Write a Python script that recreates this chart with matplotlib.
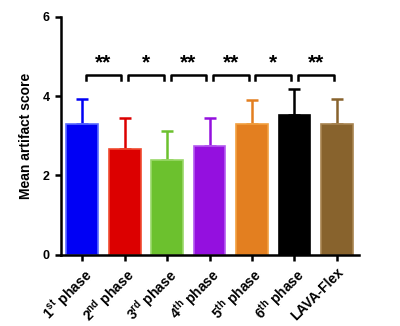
import matplotlib
matplotlib.use('Agg')
import matplotlib.pyplot as plt

plt.rcParams['font.family'] = ['Liberation Sans', 'DejaVu Sans']
plt.rcParams['mathtext.fontset'] = 'custom'
plt.rcParams['mathtext.bf'] = 'Liberation Sans:bold'
plt.rcParams['mathtext.rm'] = 'Liberation Sans'

# ── data ──
labels = [r'1$^{\mathbf{st}}$ phase', r'2$^{\mathbf{nd}}$ phase', r'3$^{\mathbf{rd}}$ phase',
          r'4$^{\mathbf{th}}$ phase', r'5$^{\mathbf{th}}$ phase', r'6$^{\mathbf{th}}$ phase',
          'LAVA-Flex']
means = [3.31, 2.66, 2.39, 2.75, 3.31, 3.53, 3.29]
sds = [0.63, 0.80, 0.74, 0.69, 0.59, 0.64, 0.64]
stars = ['**', '*', '**', '**', '*', '**']

colors = ['#0000F5', '#DC0000', '#6CC12E', '#9410DF', '#E37F20', '#000000', '#88632D']
edges = ['#5A6BFF', '#F04A30', '#9AD86A', '#B45AF0', '#F2A040', '#000000', '#A88450']

fig = plt.figure(figsize=(4, 3.26), dpi=100)
ax = fig.add_axes([0.1525, 0.219, 0.745, 0.729])

x = list(range(len(means)))
ax.bar(x, means, width=0.75, color=colors, edgecolor=edges, linewidth=1.2, zorder=2)
for xi, m, s, c in zip(x, means, sds, colors):
    ax.errorbar(xi, m, yerr=[[0], [s]], color=c, capsize=4.5, capthick=1.8,
                elinewidth=1.8, zorder=1)

# significance brackets
for i, st in enumerate(stars):
    x0, x1 = i + 0.08, i + 0.92
    ax.plot([x0, x0, x1, x1], [4.41, 4.53, 4.53, 4.41], color='black', lw=1.8,
            clip_on=False)
    ax.text((x0 + x1) / 2, 4.6, st, ha='center', va='bottom', fontsize=15,
            fontweight='bold')

ax.set_xlim(-0.5, 6.52)
ax.set_ylim(0, 6)
ax.set_yticks([0, 2, 4, 6])
ax.set_xticks(x)
ax.set_xticklabels(labels, rotation=45, ha='right', rotation_mode='anchor',
                   fontsize=10, fontweight='bold')
for t in ax.get_yticklabels():
    t.set_fontweight('bold')
    t.set_fontsize(9)
ax.set_ylabel('Mean artifact score', fontsize=10, fontweight='bold', labelpad=7)

for s in ['top', 'right']:
    ax.spines[s].set_visible(False)
for s in ['left', 'bottom']:
    ax.spines[s].set_linewidth(1.8)
ax.tick_params(width=1.8, length=4.5, direction='out')
ax.tick_params(axis='x', pad=3)

fig.savefig('out.png', dpi=100)
